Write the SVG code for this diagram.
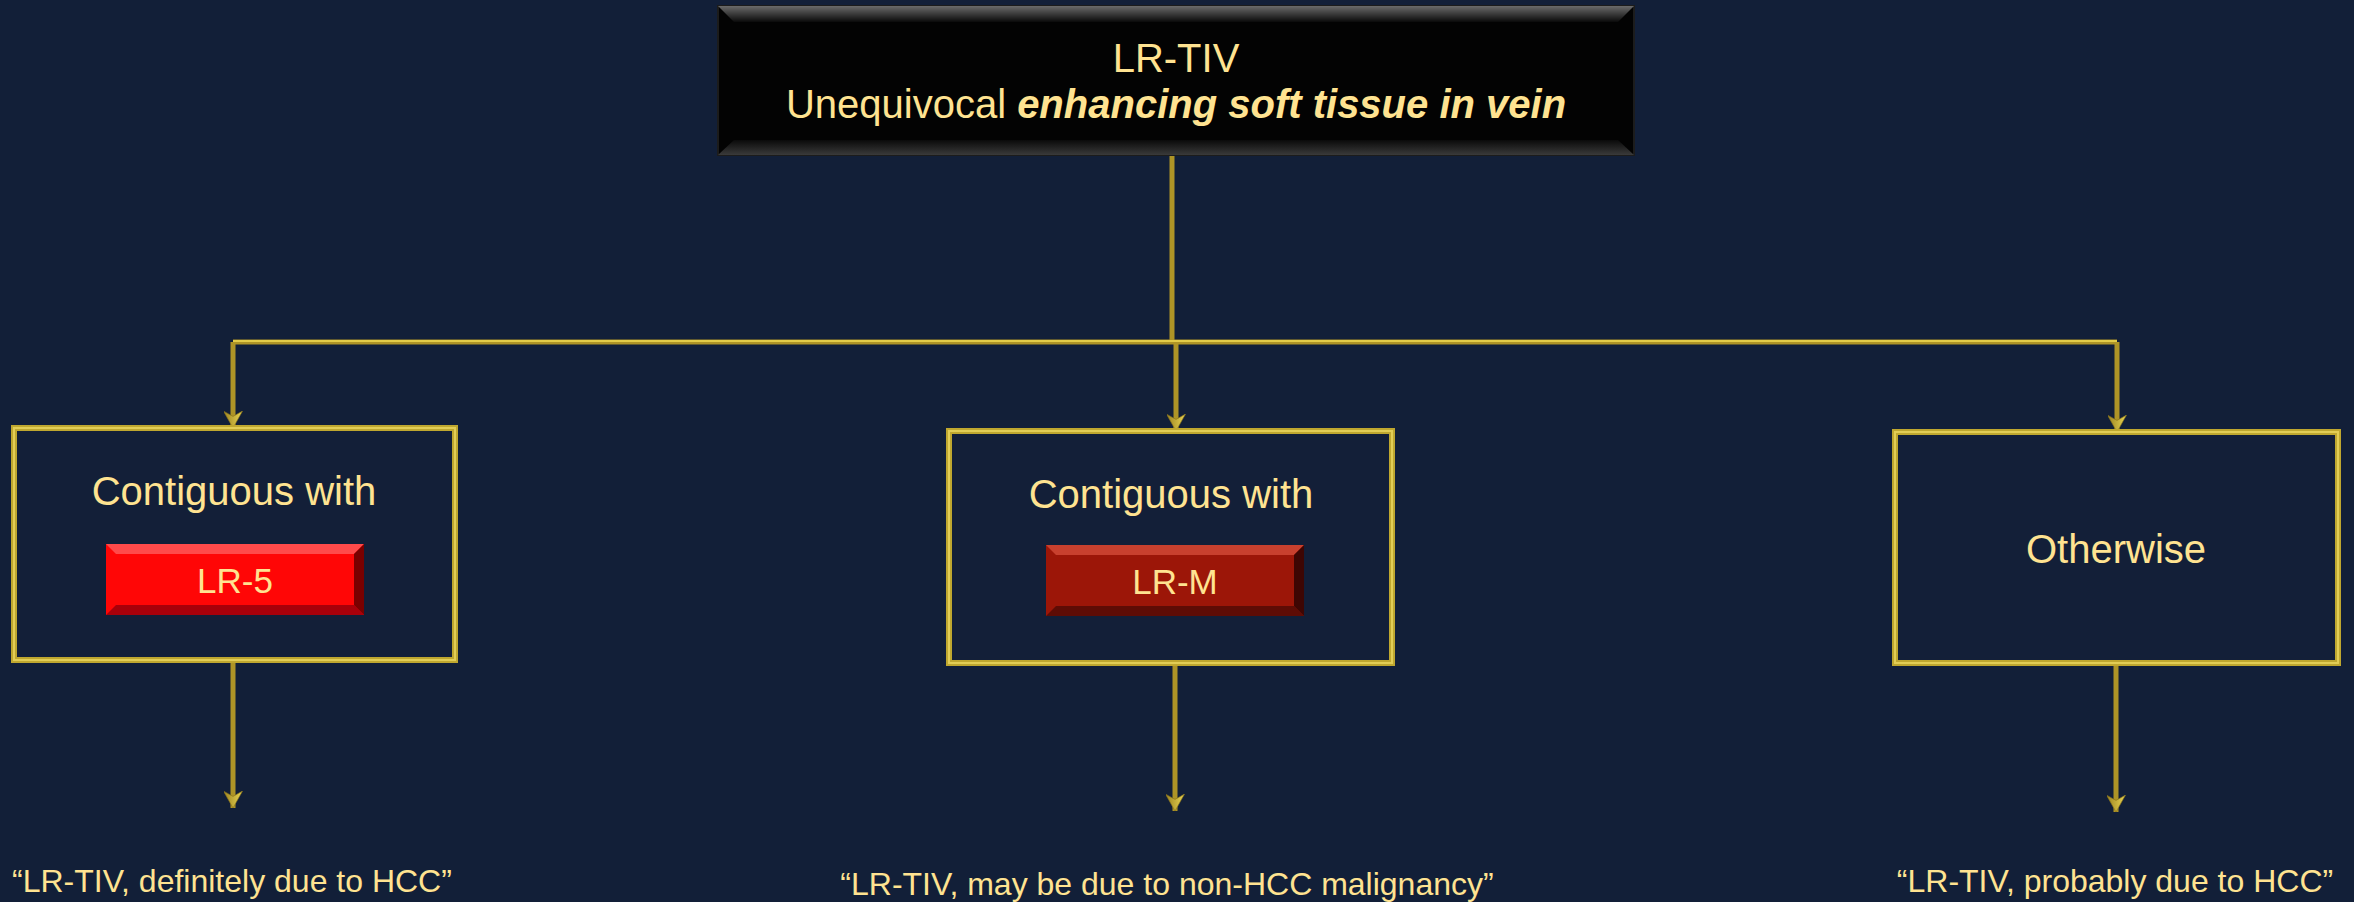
<svg xmlns="http://www.w3.org/2000/svg" width="2354" height="902" viewBox="0 0 2354 902">
<defs>
<style>
.t{font-family:"Liberation Sans",Arial,sans-serif;fill:#FFE391;text-anchor:middle}
.conn{fill:none;stroke:#AE9426;stroke-width:5}
.hl{fill:none;stroke:#E2CB48;stroke-width:2}
.box{fill:#131F38;stroke:#BFA72F;stroke-width:6}
.boxhl{fill:none;stroke:#E2CD55;stroke-width:2}
</style>
<linearGradient id="topBand" x1="0" y1="0" x2="0" y2="1">
<stop offset="0" stop-color="#6a6a6a"/><stop offset="1" stop-color="#0a0a0a"/>
</linearGradient>
<linearGradient id="botBand" x1="0" y1="0" x2="0" y2="1">
<stop offset="0" stop-color="#0a0a0a"/><stop offset="1" stop-color="#3a3a3a"/>
</linearGradient>
<linearGradient id="arrowG" x1="0" y1="0" x2="0" y2="1">
<stop offset="0" stop-color="#EAD553"/><stop offset="1" stop-color="#9C8420"/>
</linearGradient>
<marker id="arr" viewBox="0 0 16 18" refX="16" refY="9" markerWidth="17" markerHeight="19" markerUnits="userSpaceOnUse" orient="auto">
<path d="M0,0 L16,9 L0,18 L5,9 Z" fill="url(#arrowG)" stroke="#8A741A" stroke-width="0.6"/>
</marker>
</defs>
<rect x="0" y="0" width="2354" height="902" fill="#121F38"/>

<g id="connectors">
<path class="conn" d="M1172,155 V342"/>
<path class="conn" d="M233,342 H2117"/>
<path class="hl" d="M233,341 H2117"/>
<path class="conn" d="M233,342 V428" marker-end="url(#arr)"/>
<path class="conn" d="M1176,342 V431" marker-end="url(#arr)"/>
<path class="conn" d="M2117,342 V432" marker-end="url(#arr)"/>
<path class="conn" d="M233,660 V808" marker-end="url(#arr)"/>
<path class="conn" d="M1175,663 V811" marker-end="url(#arr)"/>
<path class="conn" d="M2116,663 V812" marker-end="url(#arr)"/>
</g>

<g id="top">
<rect x="718" y="6" width="916" height="149" fill="#030303" stroke="#1c1c1c" stroke-width="2"/>
<polygon points="718,6 1634,6 1618,22 734,22" fill="url(#topBand)"/>
<polygon points="718,155 1634,155 1618,140 734,140" fill="url(#botBand)"/>
<text class="t" x="1176" y="72" font-size="40">LR-TIV</text>
<text class="t" x="1176" y="118" font-size="40">Unequivocal <tspan font-weight="bold" font-style="italic">enhancing soft tissue in vein</tspan></text>
</g>

<g id="n-lr5">
<rect class="box" x="14" y="428" width="441" height="232"/>
<rect class="boxhl" x="14" y="428" width="441" height="232"/>
<text class="t" x="234" y="505" font-size="40">Contiguous with</text>
<g id="btn-lr5">
<rect x="106" y="544" width="258" height="71" fill="#FF0606"/>
<polygon points="106,544 364,544 354,554 116,554" fill="#FF4A4A"/>
<polygon points="106,615 364,615 354,605 116,605" fill="#A8000A"/>
<polygon points="364,544 364,615 354,605 354,554" fill="#7A0000"/>
<text class="t" x="235" y="593" font-size="35">LR-5</text>
</g>
</g>

<g id="n-lrm">
<rect class="box" x="949" y="431" width="443" height="232"/>
<rect class="boxhl" x="949" y="431" width="443" height="232"/>
<text class="t" x="1171" y="508" font-size="40">Contiguous with</text>
<g id="btn-lrm">
<rect x="1046" y="545" width="258" height="71" fill="#9C1608"/>
<polygon points="1046,545 1304,545 1294,555 1056,555" fill="#C8402E"/>
<polygon points="1046,616 1304,616 1294,606 1056,606" fill="#5E0C05"/>
<polygon points="1304,545 1304,616 1294,606 1294,555" fill="#3E0603"/>
<text class="t" x="1175" y="594" font-size="35">LR-M</text>
</g>
</g>

<g id="n-other">
<rect class="box" x="1895" y="432" width="443" height="231"/>
<rect class="boxhl" x="1895" y="432" width="443" height="231"/>
<text class="t" x="2116" y="563" font-size="40">Otherwise</text>
</g>

<g id="r-lr5">
<text class="t" x="12" y="892" font-size="32" style="text-anchor:start">“LR-TIV, definitely due to HCC”</text>
</g>
<g id="r-lrm">
<text class="t" x="1167" y="895" font-size="32">“LR-TIV, may be due to non-HCC malignancy”</text>
</g>
<g id="r-other">
<text class="t" x="2115" y="892" font-size="32">“LR-TIV, probably due to HCC”</text>
</g>
</svg>
